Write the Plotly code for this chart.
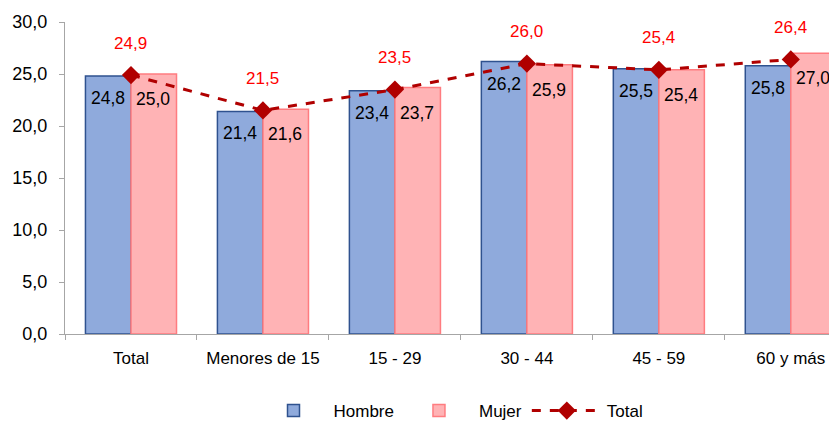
import plotly.graph_objects as go

categories = ["Total", "Menores de 15", "15 - 29", "30 - 44", "45 - 59", "60 y más"]
hombre = [24.8, 21.4, 23.4, 26.2, 25.5, 25.8]
mujer = [25.0, 21.6, 23.7, 25.9, 25.4, 27.0]
total = [24.9, 21.5, 23.5, 26.0, 25.4, 26.4]
y_ticks = [0, 5, 10, 15, 20, 25, 30]

FONT = "Liberation Sans, Arial, sans-serif"

fig = go.Figure()
fig.add_trace(go.Bar(
    name="Hombre", x=categories, y=hombre,
    marker=dict(color="#8FAADC", line=dict(color="#2F528F", width=1.5)),
))
fig.add_trace(go.Bar(
    name="Mujer", x=categories, y=mujer,
    marker=dict(color="#FFB3B5", line=dict(color="#FF7C80", width=1.5)),
))
fig.add_trace(go.Scatter(
    name="Total", x=categories, y=total, mode="lines+markers",
    line=dict(color="#B00000", width=3, dash="dash"),
    marker=dict(symbol="diamond", size=14, color="#B00000"),
))

annotations = []
for i, c in enumerate(categories):
    annotations.append(dict(x=c, y=hombre[i], xref="x", yref="y", xshift=-22.5,
                            yshift=-22, text=f"{hombre[i]:.1f}".replace(".", ","),
                            showarrow=False, font=dict(family=FONT, size=17.5, color="black")))
    annotations.append(dict(x=c, y=mujer[i], xref="x", yref="y", xshift=22.5,
                            yshift=-25, text=f"{mujer[i]:.1f}".replace(".", ","),
                            showarrow=False, font=dict(family=FONT, size=17.5, color="black")))
    annotations.append(dict(x=c, y=total[i], xref="x", yref="y",
                            yshift=32, text=f"{total[i]:.1f}".replace(".", ","),
                            showarrow=False, font=dict(family=FONT, size=17, color="#FF0000")))

fig.update_layout(
    width=829, height=413,
    margin=dict(l=57, r=0, t=14, b=87, autoexpand=False),
    paper_bgcolor="white", plot_bgcolor="white",
    separators=",.",
    barmode="group", bargap=0.31, bargroupgap=0,
    font=dict(family=FONT, size=17, color="black"),
    showlegend=True,
    legend=dict(orientation="h", x=0.5, xanchor="center", xref="paper",
                y=10 / 413, yanchor="middle", yref="container",
                font=dict(family=FONT, size=17), itemwidth=70, traceorder="normal"),
    annotations=annotations,
)
fig.update_xaxes(
    range=[-0.5, 5.35], showline=True, linecolor="#A6A6A6", linewidth=1,
    ticks="outside", tickson="boundaries", ticklen=5, tickcolor="#A6A6A6",
    showgrid=False, tickfont=dict(family=FONT, size=17), automargin=False,
    ticklabelstandoff=9,
)
fig.update_yaxes(
    range=[0, 30], tickvals=y_ticks, tickformat=".1f", showline=True,
    linecolor="#A6A6A6", linewidth=1, ticks="outside", ticklen=5,
    tickcolor="#A6A6A6", showgrid=False, zeroline=False,
    tickfont=dict(family=FONT, size=18), automargin=False, ticklabelstandoff=8,
)

fig.write_html("out.html")
